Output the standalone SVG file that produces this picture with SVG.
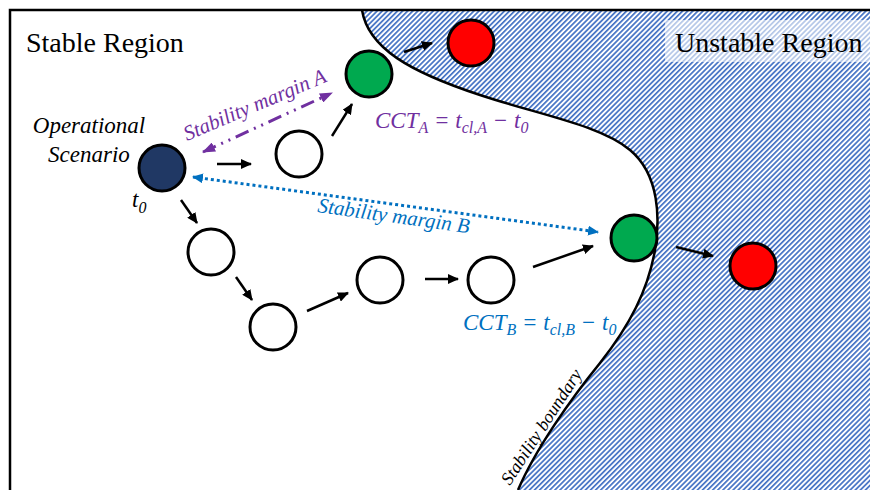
<svg xmlns="http://www.w3.org/2000/svg" width="870" height="490" viewBox="0 0 870 490">
<style>
.serif{font-family:"Liberation Serif","Times New Roman","DejaVu Serif",serif}
.it{font-style:italic}
.node{stroke:#000;stroke-width:3}
.empty{fill:#fff}
.start{fill:#203864}
.green{fill:#00A94F}
.red{fill:#FF0000}
.arr{stroke:#000;stroke-width:2.5;fill:none;marker-end:url(#ah)}
</style>
<defs>
<pattern id="hatch" width="3.6" height="3.6" patternUnits="userSpaceOnUse" patternTransform="rotate(45)">
<rect width="3.6" height="3.6" fill="#fff"/>
<rect width="1.7" height="3.6" fill="#4472C4"/>
</pattern>
<marker id="ah" markerUnits="userSpaceOnUse" markerWidth="12" markerHeight="10" refX="10" refY="5" orient="auto">
<path d="M0,0 L11,5 L0,10 Z" fill="#000"/>
</marker>
<marker id="ahP" markerUnits="userSpaceOnUse" markerWidth="14" markerHeight="10" refX="12" refY="5" orient="auto-start-reverse">
<path d="M0,0 L13,5 L0,10 Z" fill="#7030A0"/>
</marker>
<marker id="ahB" markerUnits="userSpaceOnUse" markerWidth="12" markerHeight="10" refX="10" refY="5" orient="auto-start-reverse">
<path d="M0,0 L11,5 L0,10 Z" fill="#0070C0"/>
</marker>
</defs>
<rect width="870" height="490" fill="#fff"/>
<g id="unstable-region">
<path d="M362,10 C368,48 410,72 480,95 C540,115 600,125 630,150 C660,175 660,220 655,250 C648,290 630,325 600,363 C570,400 535,450 518,490 L870,490 L870,10 Z" fill="url(#hatch)"/>
<rect x="665" y="20" width="205" height="42" fill="#fff" fill-opacity="0.6"/>
<text x="675" y="52" class="serif" font-size="28" fill="#000">Unstable Region</text>
</g>
<g id="frame">
<path d="M10,490 L10,10 L870,10" fill="none" stroke="#000" stroke-width="2.5"/>
</g>
<g id="stability-boundary">
<path d="M362,10 C368,48 410,72 480,95 C540,115 600,125 630,150 C660,175 660,220 655,250 C648,290 630,325 600,363 C570,400 535,450 518,490" fill="none" stroke="#000" stroke-width="2.5"/>
<text x="510" y="486" transform="rotate(-57 510 486)" class="serif it" font-size="18" fill="#000">Stability boundary</text>
</g>
<text x="26" y="52" class="serif" font-size="28" fill="#000">Stable Region</text>
<g id="connectors">
<line class="arr" x1="217" y1="164" x2="251" y2="164"/>
<line class="arr" x1="332" y1="136" x2="352" y2="104"/>
<line class="arr" x1="404" y1="52" x2="432" y2="43"/>
<line class="arr" x1="181" y1="200" x2="197" y2="223"/>
<line class="arr" x1="236" y1="277" x2="252" y2="300"/>
<line class="arr" x1="307" y1="311" x2="348" y2="293"/>
<line class="arr" x1="425" y1="279" x2="458" y2="279"/>
<line class="arr" x1="533" y1="267" x2="593" y2="246"/>
<line class="arr" x1="676" y1="247" x2="713" y2="256"/>
<line x1="203" y1="152" x2="332" y2="93" stroke="#7030A0" stroke-width="3" stroke-dasharray="14 6 2 6 2 6" marker-start="url(#ahP)" marker-end="url(#ahP)"/>
<line x1="193" y1="177" x2="598" y2="232" stroke="#0070C0" stroke-width="3" stroke-dasharray="3 3" marker-start="url(#ahB)" marker-end="url(#ahB)"/>
<text x="187" y="141" transform="rotate(-23 187 141)" class="serif it" font-size="21" fill="#7030A0">Stability margin A</text>
<text x="317" y="212" transform="rotate(8 317 212)" class="serif it" font-size="21" fill="#0070C0">Stability margin B</text>
</g>
<g id="node-start">
<circle class="node start" cx="162" cy="168" r="23"/>
<text x="89" y="133" text-anchor="middle" class="serif it" font-size="23" fill="#000">Operational</text>
<text x="89" y="162" text-anchor="middle" class="serif it" font-size="23" fill="#000">Scenario</text>
<text x="132" y="207" class="serif it" font-size="23" fill="#000">t<tspan font-size="16" dy="6">0</tspan></text>
</g>
<g id="node-a1"><circle class="node empty" cx="299" cy="154" r="23"/></g>
<g id="node-a-green">
<circle class="node green" cx="369" cy="74" r="23"/>
<text x="375" y="128" class="serif it" font-size="23" fill="#7030A0">CCT<tspan font-size="16" dy="5">A</tspan><tspan dy="-5"> = t</tspan><tspan font-size="16" dy="5">cl,A</tspan><tspan dy="-5"> − t</tspan><tspan font-size="16" dy="5">0</tspan></text>
</g>
<g id="node-a-red"><circle class="node red" cx="471" cy="43" r="23"/></g>
<g id="node-b1"><circle class="node empty" cx="211" cy="252" r="23"/></g>
<g id="node-b2"><circle class="node empty" cx="273" cy="327" r="23"/></g>
<g id="node-b3"><circle class="node empty" cx="380" cy="280" r="23"/></g>
<g id="node-b4"><circle class="node empty" cx="491" cy="280" r="23"/></g>
<g id="node-b-green">
<circle class="node green" cx="634" cy="238" r="23"/>
<text x="463" y="330" class="serif it" font-size="23" fill="#0070C0">CCT<tspan font-size="16" dy="5">B</tspan><tspan dy="-5"> = t</tspan><tspan font-size="16" dy="5">cl,B</tspan><tspan dy="-5"> − t</tspan><tspan font-size="16" dy="5">0</tspan></text>
</g>
<g id="node-b-red"><circle class="node red" cx="753" cy="266" r="23"/></g>
</svg>
